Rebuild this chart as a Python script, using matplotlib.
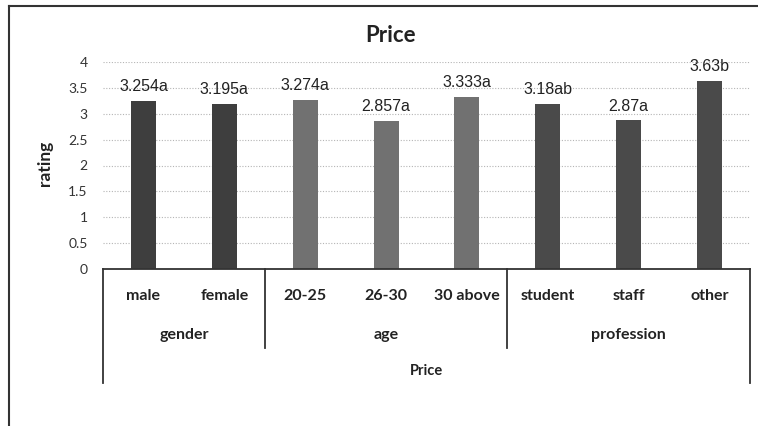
import matplotlib.pyplot as plt
from matplotlib.lines import Line2D
import numpy as np

# Mean price ratings per respondent group
categories = ["male", "female", "20-25", "26-30", "30 above", "student", "staff", "other"]
ratings = [3.254, 3.195, 3.274, 2.857, 3.333, 3.18, 2.87, 3.63]
letters = ["a", "a", "a", "a", "a", "ab", "a", "b"]
groups = ["gender", "age", "profession"]
group_sizes = [2, 3, 3]
group_colors = ["#3e3e3e", "#717171", "#4a4a4a"]
yticks = [0, 0.5, 1, 1.5, 2, 2.5, 3, 3.5, 4]

label_font = "Lato"

fig = plt.figure(figsize=(7.58, 4.26), dpi=100)
ax = fig.add_axes([103 / 758, 1 - 269 / 426, 647 / 758, 207 / 426])

x = np.arange(len(categories))
colors = []
for c, n in zip(group_colors, group_sizes):
    colors += [c] * n
bars = ax.bar(x, ratings, width=0.31, color=colors, zorder=3)

# value + significance letter above each bar
for bar, v, l in zip(bars, ratings, letters):
    ax.annotate(f"{v:g}{l}", (bar.get_x() + bar.get_width() / 2, v),
                xytext=(0, 5), textcoords="offset points",
                ha="center", va="bottom", fontsize=11.5,
                family="Liberation Sans", color="#222222")

ax.set_xlim(-0.5, len(categories) - 0.5)
ax.set_ylim(0, 4)
ax.set_yticks(yticks)
ax.set_yticklabels([f"{t:g}" for t in yticks], family=label_font, fontsize=10, color="#333333")
ax.tick_params(axis="y", length=0, pad=11)
ax.set_xticks([])
for s in ax.spines.values():
    s.set_visible(False)
for t in yticks[1:]:
    ax.axhline(t, color="#b5b5b5", lw=0.8, ls=(0, (1, 1.5)), zorder=1)

# multi-level category axis drawn below the plot
tr = ax.get_xaxis_transform()
ax.plot([-0.5, len(categories) - 0.5], [0, 0], color="#333333", lw=1.3,
        transform=tr, clip_on=False, zorder=4)
edges = np.concatenate([[0], np.cumsum(group_sizes)]) - 0.5
for i, e in enumerate(edges):
    depth = -0.551 if i in (0, len(edges) - 1) else -0.382
    ax.plot([e, e], [0, depth], color="#333333", lw=1.3, transform=tr, clip_on=False)

for xi, name in zip(x, categories):
    ax.text(xi, -0.13, name, transform=tr, ha="center", va="center",
            family=label_font, fontweight="bold", fontsize=11.5, color="#222222")
for g, lo, hi in zip(groups, edges[:-1], edges[1:]):
    ax.text((lo + hi) / 2, -0.319, g, transform=tr, ha="center", va="center",
            family=label_font, fontweight="bold", fontsize=11.5, color="#222222")
ax.text((edges[0] + edges[-1]) / 2, -0.493, "Price", transform=tr, ha="center", va="center",
        family=label_font, fontweight="bold", fontsize=10.5, color="#222222")

fig.text(391 / 758, 1 - 35 / 426, "Price", ha="center", va="center",
         family=label_font, fontweight="bold", fontsize=16, color="#222222")
fig.text(45 / 758, 1 - 163 / 426, "rating", rotation=90, ha="center", va="center",
         family=label_font, fontweight="bold", fontsize=12.5, color="#222222")

# outer chart border (top and left edges)
fig.add_artist(Line2D([8.5 / 758, 1], [1 - 5.5 / 426] * 2, color="#333333", lw=1.5))
fig.add_artist(Line2D([8.5 / 758] * 2, [0, 1 - 5.5 / 426], color="#333333", lw=1.5))

fig.savefig("out.png", dpi=100)
